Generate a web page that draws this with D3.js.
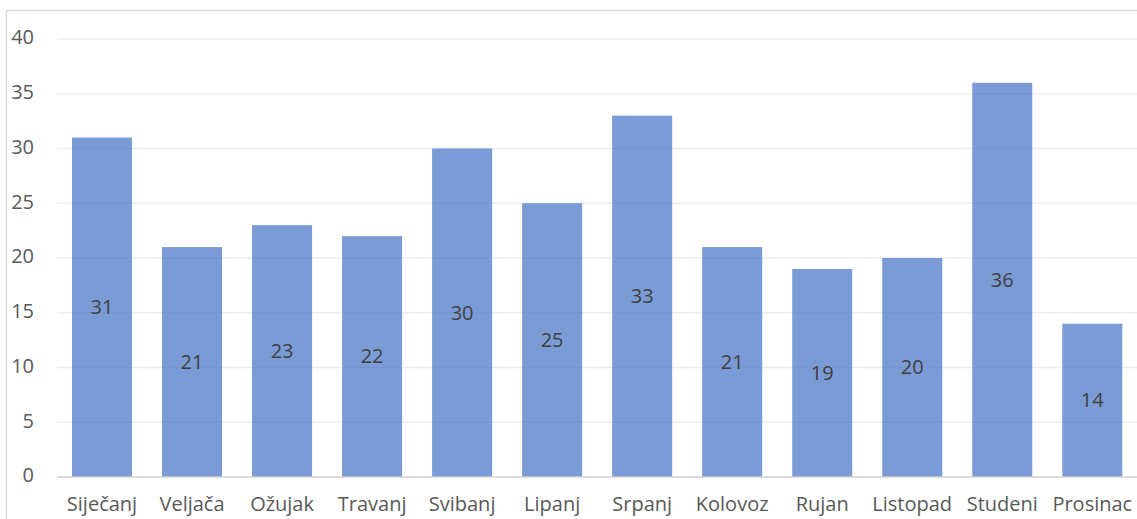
<!DOCTYPE html>
<html>
<head>
<meta charset="utf-8">
<script src="https://cdn.jsdelivr.net/npm/d3@7"></script>
<style>
  html, body { margin: 0; padding: 0; background: #fff; }
  svg { display: block; font-family: "Open Sans", "Liberation Sans", sans-serif; }
</style>
</head>
<body>
<div id="chart"></div>
<script>
const width = 1137, height = 519;
const margin = { top: 39, right: 0, bottom: 42, left: 57 };

const months = ['Siječanj', 'Veljača', 'Ožujak', 'Travanj', 'Svibanj', 'Lipanj',
  'Srpanj', 'Kolovoz', 'Rujan', 'Listopad', 'Studeni', 'Prosinac'];
const values = [31, 21, 23, 22, 30, 25, 33, 21, 19, 20, 36, 14];
const yTicks = [0, 5, 10, 15, 20, 25, 30, 35, 40];

const svg = d3.select('#chart')
  .append('svg')
    .attr('width', width)
    .attr('height', height);

// outer chart border
svg.append('rect')
  .attr('x', 6.5).attr('y', 10.5)
  .attr('width', width).attr('height', height)
  .attr('fill', 'none')
  .attr('stroke', '#d9d9d9')
  .attr('stroke-width', 1.5);

const xScale = d3.scaleBand()
  .domain(months)
  .range([margin.left, width - margin.right + 0.3])
  .paddingInner(1 / 3)
  .paddingOuter(1 / 6);

const yScale = d3.scaleLinear()
  .domain([0, 40])
  .range([height - margin.bottom, margin.top]);

// gridlines
svg.append('g')
  .selectAll('line')
  .data(yTicks.filter(d => d > 0))
  .join('line')
    .attr('x1', margin.left)
    .attr('x2', width)
    .attr('y1', d => yScale(d))
    .attr('y2', d => yScale(d))
    .attr('stroke', '#ececec')
    .attr('stroke-width', 1.3);

// y tick labels
svg.append('g')
  .selectAll('text')
  .data(yTicks)
  .join('text')
    .text(d => d)
    .attr('x', 34)
    .attr('y', d => yScale(d))
    .attr('text-anchor', 'end')
    .attr('dominant-baseline', 'middle')
    .attr('fill', '#595959')
    .style('font-size', '20px');

// bars
svg.append('g')
  .selectAll('rect')
  .data(values)
  .join('rect')
    .attr('x', (d, i) => xScale(months[i]))
    .attr('y', d => yScale(d))
    .attr('width', xScale.bandwidth())
    .attr('height', d => yScale(0) - yScale(d))
    .attr('fill', '#4472c4')
    .attr('fill-opacity', 0.71);

// zero axis line
svg.append('line')
  .attr('x1', margin.left)
  .attr('x2', width)
  .attr('y1', yScale(0))
  .attr('y2', yScale(0))
  .attr('stroke', '#d0d0d0')
  .attr('stroke-width', 1.3);

// data labels in the middle of each bar
svg.append('g')
  .selectAll('text')
  .data(values)
  .join('text')
    .text(d => d)
    .attr('x', (d, i) => xScale(months[i]) + xScale.bandwidth() / 2)
    .attr('y', d => yScale(d / 2) + 1.5)
    .attr('text-anchor', 'middle')
    .attr('dominant-baseline', 'middle')
    .attr('fill', '#404040')
    .style('font-size', '20px');

// category labels
svg.append('g')
  .selectAll('text')
  .data(months)
  .join('text')
    .text(d => d)
    .attr('x', d => xScale(d) + xScale.bandwidth() / 2)
    .attr('y', 506)
    .attr('text-anchor', 'middle')
    .attr('dominant-baseline', 'middle')
    .attr('fill', '#595959')
    .style('font-size', '20px');
</script>
</body>
</html>
